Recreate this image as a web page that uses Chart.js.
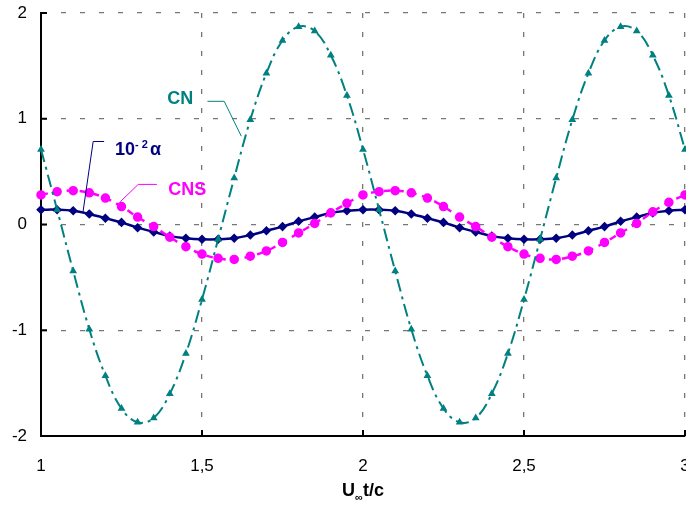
<!DOCTYPE html>
<html>
<head>
<meta charset="utf-8">
<script src="https://cdn.jsdelivr.net/npm/chart.js@4/dist/chart.umd.min.js"></script>
<style>
  html, body { margin: 0; padding: 0; background: #fff; }
  #wrap { width: 686px; height: 505px; }
</style>
</head>
<body>
<div id="wrap"><canvas id="chart"></canvas></div>
<script>
// U∞t/c sampled every 0.05
const tValues = [1.00,1.05,1.10,1.15,1.20,1.25,1.30,1.35,1.40,1.45,1.50,1.55,1.60,1.65,1.70,1.75,1.80,1.85,1.90,1.95,
  2.00,2.05,2.10,2.15,2.20,2.25,2.30,2.35,2.40,2.45,2.50,2.55,2.60,2.65,2.70,2.75,2.80,2.85,2.90,2.95,3.00];

const alphaValues = [0.14,0.14,0.13,0.10,0.06,0.02,-0.03,-0.07,-0.11,-0.13,-0.14,-0.14,-0.13,-0.10,-0.06,-0.02,0.03,0.07,0.11,0.13,
  0.14,0.14,0.13,0.10,0.06,0.02,-0.03,-0.07,-0.11,-0.13,-0.14,-0.14,-0.13,-0.10,-0.06,-0.02,0.03,0.07,0.11,0.13,0.14];

const cnsValues = [0.28,0.31,0.32,0.30,0.25,0.17,0.07,-0.02,-0.12,-0.21,-0.28,-0.32,-0.33,-0.30,-0.25,-0.17,-0.08,0.01,0.11,0.20,
  0.28,0.31,0.32,0.30,0.25,0.17,0.07,-0.02,-0.12,-0.21,-0.28,-0.32,-0.33,-0.30,-0.25,-0.17,-0.08,0.01,0.12,0.21,0.28];

const cnValues = [0.71,0.14,-0.44,-0.99,-1.43,-1.74,-1.87,-1.83,-1.60,-1.22,-0.71,-0.14,0.44,0.99,1.43,1.74,1.87,1.83,1.60,1.22,
  0.71,0.14,-0.44,-0.99,-1.43,-1.74,-1.87,-1.83,-1.60,-1.22,-0.71,-0.14,0.44,0.99,1.43,1.74,1.87,1.83,1.60,1.22,0.71];

const xTicks = [1, 1.5, 2, 2.5, 3];
const yTicks = [-2, -1, 0, 1, 2];

const FONT = "Arial, 'Liberation Sans', sans-serif";
const NAVY = "#000080", MAGENTA = "#ff00ff", TEAL = "#008080";

const toPoints = vals => vals.map((v, i) => ({ x: tValues[i], y: v }));

// labels with leader lines, anchored in data units
const labels = [
  { color: TEAL, parts: [["CN", 0]], at: [1.392, 1.14], leader: [[1.517, 1.165], [1.569, 1.165], [1.622, 0.835]] },
  { color: NAVY, parts: [["10", 0], ["- 2", 1], ["α", 0]], at: [1.23, 0.66], leader: [[1.196, 0.785], [1.162, 0.785], [1.13, 0.11]] },
  { color: MAGENTA, parts: [["CNS", 0]], at: [1.395, 0.28], leader: [[1.36, 0.379], [1.302, 0.379], [1.246, 0.215]] }
];

const decor = {
  id: "decor",
  afterDraw(chart) {
    const ctx = chart.ctx, xs = chart.scales.x, ys = chart.scales.y, area = chart.chartArea;
    ctx.save();
    // inward tick marks
    ctx.strokeStyle = "#000";
    ctx.lineWidth = 2;
    xTicks.forEach(v => {
      const px = xs.getPixelForValue(v);
      ctx.beginPath(); ctx.moveTo(px, area.bottom); ctx.lineTo(px, area.bottom - 6); ctx.stroke();
    });
    yTicks.forEach(v => {
      const py = ys.getPixelForValue(v);
      ctx.beginPath(); ctx.moveTo(area.left, py); ctx.lineTo(area.left + 6, py); ctx.stroke();
    });
    // annotations
    labels.forEach(l => {
      ctx.strokeStyle = l.color;
      ctx.lineWidth = 1;
      ctx.setLineDash([]);
      ctx.beginPath();
      l.leader.forEach((p, i) => {
        const px = xs.getPixelForValue(p[0]), py = ys.getPixelForValue(p[1]);
        if (i === 0) ctx.moveTo(px, py); else ctx.lineTo(px, py);
      });
      ctx.stroke();
      ctx.fillStyle = l.color;
      ctx.textBaseline = "alphabetic";
      ctx.textAlign = "left";
      let x = xs.getPixelForValue(l.at[0]);
      const y = ys.getPixelForValue(l.at[1]);
      l.parts.forEach(([txt, sup]) => {
        ctx.font = sup ? "bold 11px " + FONT : "bold 18px " + FONT;
        ctx.fillText(txt, x, sup ? y - 7 : y);
        x += ctx.measureText(txt).width + (sup ? 2 : 0);
      });
    });
    // axis title U∞t/c
    ctx.fillStyle = "#000";
    ctx.textAlign = "left";
    const parts = [["U", "bold 18px", 0], ["∞", "bold 11px", 5], ["t/c", "bold 18px", 0]];
    let w = 0;
    parts.forEach(p => { ctx.font = p[1] + " " + FONT; w += ctx.measureText(p[0]).width; });
    let x = (area.left + area.right) / 2 - w / 2;
    const base = 496;
    parts.forEach(p => {
      ctx.font = p[1] + " " + FONT;
      ctx.fillText(p[0], x, base + p[2]);
      x += ctx.measureText(p[0]).width;
    });
    ctx.restore();
  }
};

new Chart(document.getElementById("chart"), {
  type: "line",
  data: {
    datasets: [
      {
        label: "CN",
        data: toPoints(cnValues),
        borderColor: TEAL,
        backgroundColor: TEAL,
        borderWidth: 2,
        borderDash: [13, 5, 3, 5],
        pointStyle: "triangle",
        pointRadius: 2.5,
        tension: 0.4,
        clip: false
      },
      {
        label: "CNS",
        data: toPoints(cnsValues),
        borderColor: MAGENTA,
        backgroundColor: MAGENTA,
        borderWidth: 2.5,
        borderDash: [7, 6],
        pointStyle: "circle",
        pointRadius: 3.5,
        tension: 0.4,
        clip: false
      },
      {
        label: "10-2α",
        data: toPoints(alphaValues),
        borderColor: NAVY,
        backgroundColor: NAVY,
        borderWidth: 2.5,
        pointStyle: "rectRot",
        pointRadius: 3,
        tension: 0.4,
        clip: false
      }
    ]
  },
  options: {
    responsive: true,
    maintainAspectRatio: false,
    animation: false,
    layout: { autoPadding: false, padding: { top: 13, right: 1, left: 0, bottom: 0 } },
    plugins: {
      legend: { display: false },
      tooltip: { enabled: false }
    },
    scales: {
      x: {
        type: "linear",
        min: 1,
        max: 3,
        afterFit: s => { s.height = 69; s.paddingLeft = 0; s.paddingRight = 0; },
        afterBuildTicks: s => { s.ticks = xTicks.map(v => ({ value: v })); },
        border: { display: true, color: "#000", width: 2, dash: [5, 14] },
        grid: { color: "#777", lineWidth: 1.3, drawTicks: false },
        ticks: {
          padding: 20,
          color: "#000",
          font: { family: FONT, size: 17 },
          maxRotation: 0,
          callback: v => String(v).replace(".", ",")
        }
      },
      y: {
        min: -2,
        max: 2,
        afterFit: s => { s.width = 41; s.paddingTop = 0; s.paddingBottom = 0; },
        afterBuildTicks: s => { s.ticks = yTicks.map(v => ({ value: v })); },
        border: { display: true, color: "#000", width: 2, dash: [5, 14] },
        grid: { color: "#777", lineWidth: 1.3, drawTicks: false },
        ticks: {
          padding: 14,
          color: "#000",
          font: { family: FONT, size: 17 },
          callback: v => String(v)
        }
      }
    }
  },
  plugins: [decor]
});
</script>
</body>
</html>
